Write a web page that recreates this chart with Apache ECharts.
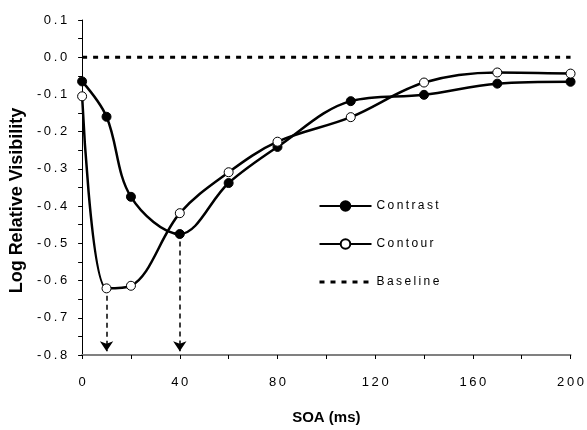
<!DOCTYPE html>
<html>
<head>
<meta charset="utf-8">
<script src="https://cdn.jsdelivr.net/npm/echarts@6/dist/echarts.min.js"></script>
<style>
	html, body {margin: 0; padding: 0; background: #fff;}
	#chart {width: 587px; height: 430px;}
</style>
</head>
<body>
<div id="chart"></div>
<script>
// SOA (ms)
var soa = [0, 10, 20, 40, 60, 80, 110, 140, 170, 200];
// log relative visibility
var contrastValues = [-0.065, -0.16, -0.375, -0.475, -0.338, -0.241, -0.118, -0.101, -0.071, -0.066];
var contourValues = [-0.105, -0.621, -0.614, -0.419, -0.309, -0.227, -0.161, -0.068, -0.041, -0.044];
var baselineX = [0, 200];
var baselineValues = [0, 0];
// arrows: [x, y start]
var arrows = [[10, -0.621], [40, -0.475]];

var narrowFont = '"Liberation Sans Narrow", "Liberation Sans", Arial, sans-serif';

function spaced(s) {
	return String(s).split('').join('\u2009');
}
function pairs(xs, ys) {
	var out = [];
	for (var i = 0; i < xs.length; i++) {
		out.push([xs[i], ys[i]]);
	}
	return out;
}

var chart = echarts.init(document.getElementById('chart'));

// 虚线箭头
var arrowLines = [];
for (var i = 0; i < arrows.length; i++) {
	arrowLines.push([
		{coord: [arrows[i][0], arrows[i][1] - 0.02], symbol: 'none'},
		{coord: [arrows[i][0], -0.79], symbol: 'arrow'}
	]);
}

var option = {
	animation: false,
	backgroundColor: '#fff',
	grid: {left: 81, right: 15, top: 20, bottom: 71},
	legend: {
		orient: 'vertical',
		left: 318,
		top: 200,
		padding: 0,
		itemWidth: 52,
		itemHeight: 12,
		itemGap: 26,
		textStyle: {fontFamily: narrowFont, fontSize: 12, lineHeight: 12, color: '#000'},
		formatter: function (name) { return spaced(name); },
		data: [
			'Contrast',
			'Contour',
			{
				name: 'Baseline',
				itemStyle: {color: 'rgba(0,0,0,0)', borderWidth: 0},
				lineStyle: {width: 3, type: [5, 6]}
			}
		]
	},
	xAxis: {
		type: 'value',
		min: 0,
		max: 200,
		interval: 20,
		name: 'SOA (ms)',
		nameLocation: 'middle',
		nameGap: 55,
		nameTextStyle: {fontFamily: 'Liberation Sans', fontSize: 15, fontWeight: 'bold', color: '#000'},
		axisLine: {onZero: false, lineStyle: {color: '#808080', width: 2}},
		axisTick: {lineStyle: {color: '#000'}, length: 4},
		axisLabel: {
			margin: 21,
			fontFamily: narrowFont, fontSize: 13, color: '#000',
			formatter: function (v) { return v % 40 === 0 ? spaced(v) : ''; }
		},
		splitLine: {show: false}
	},
	yAxis: {
		type: 'value',
		min: -0.8,
		max: 0.1,
		interval: 0.05,
		name: 'Log Relative Visibility',
		nameLocation: 'middle',
		nameGap: 48,
		nameTextStyle: {
			fontFamily: 'Liberation Sans', fontSize: 18, fontWeight: 'bold', color: '#000',
			padding: [0, 26, 0, 0]
		},
		axisLine: {show: true, lineStyle: {color: '#000', width: 1}},
		axisTick: {show: true, lineStyle: {color: '#000'}, length: 4},
		axisLabel: {
			margin: 15,
			fontFamily: narrowFont, fontSize: 13, color: '#000',
			formatter: function (v) {
				var k = Math.round(v * 100);
				if (k % 10 !== 0) return '';
				return spaced((k / 100).toFixed(1));
			}
		},
		splitLine: {show: false}
	},
	series: [
		{
			name: 'Baseline',
			type: 'line',
			data: pairs(baselineX, baselineValues),
			symbol: 'none',
			lineStyle: {color: '#000', width: 3, type: [5, 6]},
			itemStyle: {color: '#000'},
			z: 1
		},
		{
			name: 'Contrast',
			type: 'line',
			data: pairs(soa, contrastValues),
			smooth: 0.35,
			symbol: 'circle',
			symbolSize: 9,
			lineStyle: {color: '#000', width: 2.5},
			itemStyle: {color: '#000', borderColor: '#000', borderWidth: 1},
			markLine: {
				silent: true,
				symbolSize: 10,
				label: {show: false},
				lineStyle: {color: '#000', width: 1.5, type: [5, 4]},
				data: arrowLines
			},
			z: 3
		},
		{
			name: 'Contour',
			type: 'line',
			data: pairs(soa, contourValues),
			smooth: 0.35,
			symbol: 'circle',
			symbolSize: 9,
			lineStyle: {color: '#000', width: 2.5},
			itemStyle: {color: '#fff', borderColor: '#000', borderWidth: 1},
			z: 4
		}
	]
};

chart.setOption(option);
</script>
</body>
</html>
